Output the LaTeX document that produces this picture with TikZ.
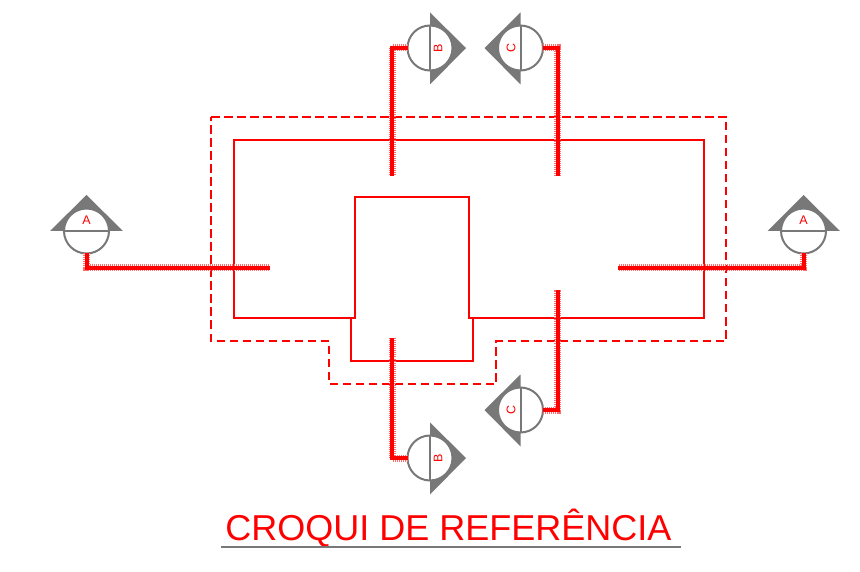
\documentclass[tikz,border=0pt]{standalone}
\usepackage{fontspec}
\setmainfont{Liberation Sans}
\definecolor{mk}{RGB}{120,120,120}
\definecolor{redpale}{RGB}{255,110,110}
\tikzset{
  x=1pt,y=-1pt,
  outlinered/.style={draw=red,line width=2pt,line join=miter},
  dashred/.style={draw=red,line width=2pt,dash pattern=on 8.5pt off 4.5pt},
  markertri/.style={fill=mk,draw=none},
  markercirc/.style={circle,draw=mk,fill=white,line width=2pt,minimum size=45pt,inner sep=0pt,outer sep=0pt},
  markerline/.style={draw=mk,line width=2pt},
  marktext/.style={text=red,font=\fontsize{12.5}{12.5}\selectfont,inner sep=0pt},
  cutcore/.style={draw=red,line width=4pt,line join=miter},
  cutfuzz/.style={draw=redpale,line width=7pt,dash pattern=on 1pt off 1pt,line join=miter},
}
\newcommand{\cutline}[1]{\draw[cutfuzz] #1; \draw[cutcore] #1;}
\begin{document}
\begin{tikzpicture}
\useasboundingbox (0,0) rectangle (860,572);
\fill[white] (0,0) rectangle (860,572);
% outlines
\draw[dashred] (211,117) -- (726,117) -- (726,341) -- (496,341) -- (496,384) -- (329,384) -- (329,341) -- (211,341) -- cycle;
\draw[outlinered] (234,140) -- (704,140) -- (704,318) -- (469,318) -- (469,197) -- (355,197) -- (355,318) -- (234,318) -- cycle;
\draw[outlinered] (351,318) -- (351,361) -- (473,361) -- (473,318);
% markers: triangles
\fill[markertri] (50,231) -- (86.5,195) -- (123,231) -- cycle;
\fill[markertri] (767.5,231) -- (803.5,195) -- (840,231) -- cycle;
\fill[markertri] (430,12.5) -- (466,48) -- (430,84.5) -- cycle;
\fill[markertri] (430,422.5) -- (466,458) -- (430,494.5) -- cycle;
\fill[markertri] (520.5,12.5) -- (484.5,48) -- (520.5,84.5) -- cycle;
\fill[markertri] (520.5,374.5) -- (484.5,410) -- (520.5,446.5) -- cycle;
% circles
\node[markercirc] (aL) at (86.5,231) {};
\node[markercirc] (aR) at (803.5,231) {};
\node[markercirc] (bT) at (430,48) {};
\node[markercirc] (bB) at (430,458) {};
\node[markercirc] (cT) at (520.5,48) {};
\node[markercirc] (cB) at (520.5,410) {};
% section lines
\draw[markerline] (aL.west) -- (aL.east);
\draw[markerline] (aR.west) -- (aR.east);
\draw[markerline] (bT.north) -- (bT.south);
\draw[markerline] (bB.north) -- (bB.south);
\draw[markerline] (cT.north) -- (cT.south);
\draw[markerline] (cB.north) -- (cB.south);
% letters
\node[marktext] (laL) at (86.5,220.5) {A};
\node[marktext] (laR) at (803.5,220.5) {A};
\node[marktext,rotate=90] (lbT) at (438,48) {B};
\node[marktext,rotate=90] (lbB) at (438,458) {B};
\node[marktext,rotate=90] (lcT) at (511,48) {C};
\node[marktext,rotate=90] (lcB) at (511,410) {C};
% free ends and corners
\coordinate (eAL) at (270,268);
\coordinate (eAR) at (618,268);
\coordinate (eBT) at (392,176);
\coordinate (eBB) at (392,338);
\coordinate (eCT) at (557.5,176);
\coordinate (eCB) at (557.5,290);
% cut lines
\cutline{(aL.south) |- (eAL)}
\cutline{(aR.south) |- (eAR)}
\cutline{(bT.west) -| (eBT)}
\cutline{(bB.west) -| (eBB)}
\cutline{(cT.east) -| (eCT)}
\cutline{(cB.east) -| (eCB)}
% title
\node[text=red,font=\fontsize{36}{36}\selectfont,inner sep=0pt,anchor=base] (title) at (448.5,540) {CROQUI DE REFERÊNCIA};
\coordinate (ulL) at (221,547);
\coordinate (ulR) at (681,547);
\draw[draw=mk,line width=2pt] (ulL) -- (ulR);
\end{tikzpicture}
\end{document}
